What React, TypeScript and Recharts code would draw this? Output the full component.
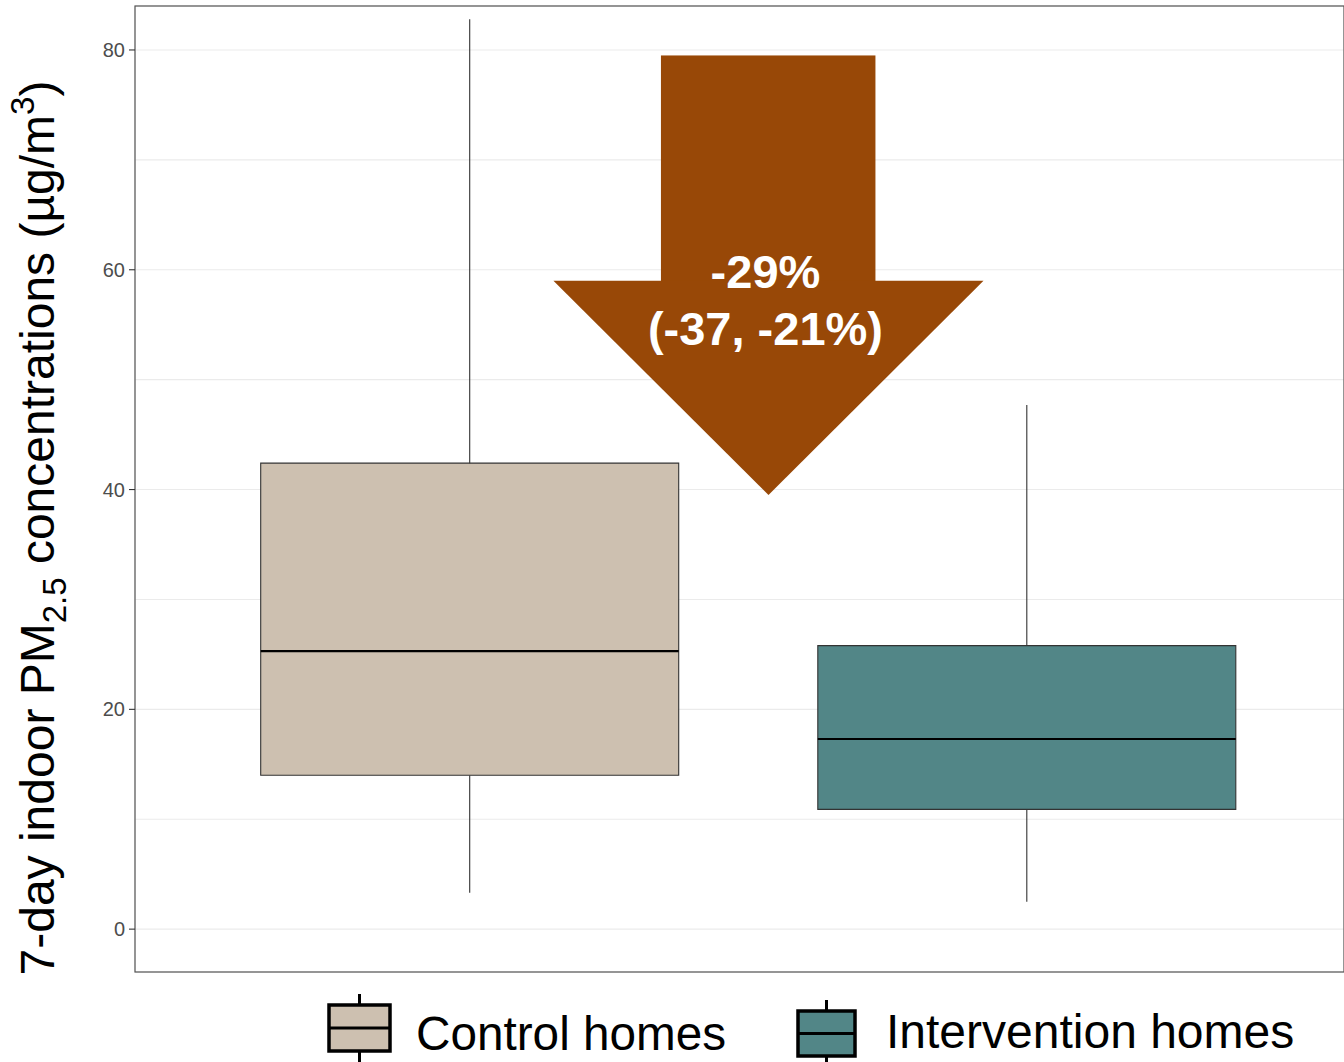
import { ComposedChart, Bar, XAxis, YAxis, CartesianGrid, ReferenceArea, Legend } from 'recharts';

// groups and box statistics (µg/m3)
const GROUPS = ['Control homes', 'Intervention homes'];
const POSITIONS = [1, 2];
const WHISKER_LOW = [3.3, 2.5];
const Q1 = [14.0, 10.9];
const MEDIAN = [25.3, 17.3];
const Q3 = [42.4, 25.8];
const WHISKER_HIGH = [82.8, 47.7];
const FILLS = ['#CDC0B0', '#528687'];

const X_DOMAIN = [0.4, 2.57];
const Y_DOMAIN = [-3.9, 84];
const Y_TICKS = [0, 10, 20, 30, 40, 50, 60, 70, 80];
const Y_LABELED = [0, 20, 40, 60, 80];

// arrow annotation, in data units (x on the 1..2 group scale)
const ARROW_SHAFT_X = [1.344, 1.729];
const ARROW_HEAD_X = [1.151, 1.923];
const ARROW_TIP = 39.5;
const ARROW_SHOULDER = 59.0;
const ARROW_TOP = 79.5;
const CHANGE_LABEL = ['-29%', '(-37, -21%)'];
const ARROW_COLOR = '#984807';

const data = GROUPS.map((g, i) => ({
  group: g,
  pos: POSITIONS[i],
  fill: FILLS[i],
  base: WHISKER_LOW[i],
  lowW: Q1[i] - WHISKER_LOW[i],
  lowBox: MEDIAN[i] - Q1[i],
  highBox: Q3[i] - MEDIAN[i],
  highW: WHISKER_HIGH[i] - Q3[i],
}));

const EDGE = '#333333';
const FONT = "'Liberation Sans', Arial, sans-serif";

const Whisker = (p: any) => {
  const cx = p.x + p.width / 2;
  return <line x1={cx} x2={cx} y1={p.y} y2={p.y + p.height} stroke={EDGE} strokeWidth={1.1} />;
};

const LowerBox = (p: any) => {
  const { x, y, width: w, height: h } = p;
  return (
    <g>
      <rect x={x} y={y} width={w} height={h} fill={p.payload.fill} />
      <path d={`M${x},${y} L${x},${y + h} L${x + w},${y + h} L${x + w},${y}`} fill="none" stroke={EDGE} strokeWidth={1.1} />
    </g>
  );
};

const UpperBox = (p: any) => {
  const { x, y, width: w, height: h } = p;
  return (
    <g>
      <rect x={x} y={y} width={w} height={h} fill={p.payload.fill} />
      <path d={`M${x},${y + h} L${x},${y} L${x + w},${y} L${x + w},${y + h}`} fill="none" stroke={EDGE} strokeWidth={1.1} />
      <line x1={x} x2={x + w} y1={y + h} y2={y + h} stroke="#000" strokeWidth={2.2} />
    </g>
  );
};

const ArrowShaft = (p: any) => (
  <rect x={p.x} y={p.y} width={p.width} height={p.height + 2} fill={ARROW_COLOR} />
);

const ArrowHead = (p: any) => {
  const { x, y, width: w, height: h } = p;
  const cx = x + w / 2;
  return (
    <g>
      <polygon points={`${x},${y} ${x + w},${y} ${cx},${y + h}`} fill={ARROW_COLOR} />
      <text x={cx - 3} y={y + 7} textAnchor="middle" fill="#fff" fontSize={47} fontWeight="bold" fontFamily={FONT}>
        {CHANGE_LABEL[0]}
      </text>
      <text x={cx - 3} y={y + 64} textAnchor="middle" fill="#fff" fontSize={47} fontWeight="bold" fontFamily={FONT}>
        {CHANGE_LABEL[1]}
      </text>
    </g>
  );
};

const PanelBorder = (p: any) => (
  <rect x={p.x} y={p.y} width={p.width} height={p.height} fill="none" stroke="#555" strokeWidth={1.2} />
);

const YTick = (p: any) => {
  const v = p.payload.value;
  if (!Y_LABELED.includes(v)) return null;
  return (
    <g>
      <line x1={p.x + 4} x2={p.x + 10} y1={p.y} y2={p.y} stroke={EDGE} strokeWidth={1.1} />
      <text x={p.x} y={p.y} dy="0.355em" textAnchor="end" fill="#4D4D4D" fontSize={20} fontFamily={FONT}>
        {v}
      </text>
    </g>
  );
};

const YTitle = () => (
  <text x={54} y={528} transform="rotate(-90 54 528)" textAnchor="middle" fontSize={48} fill="#000" fontFamily={FONT}>
    <tspan>7-day indoor PM</tspan>
    <tspan fontSize={33} dy={12}>2.5</tspan>
    <tspan dy={-12}> concentrations (µg/m</tspan>
    <tspan fontSize={33} dy={-20}>3</tspan>
    <tspan dy={20}>)</tspan>
  </text>
);

const LegendKey = ({ left, top, w, h, fill }: { left: number; top: number; w: number; h: number; fill: string }) => {
  const cx = left + w / 2;
  return (
    <g>
      <line x1={cx} x2={cx} y1={top - 11} y2={top + h + 11} stroke="#000" strokeWidth={3} />
      <rect x={left} y={top} width={w} height={h} fill={fill} stroke="#000" strokeWidth={3.5} />
      <line x1={left} x2={left + w} y1={top + h / 2} y2={top + h / 2} stroke="#000" strokeWidth={3} />
    </g>
  );
};

const LegendContent = () => (
  <svg width={1344} height={90} style={{ display: 'block' }}>
    <LegendKey left={329} top={33} w={61} h={46} fill={FILLS[0]} />
    <text x={416} y={78} fontSize={47.7} fill="#000" fontFamily={FONT}>
      {GROUPS[0]}
    </text>
    <LegendKey left={798} top={39} w={57} h={45} fill={FILLS[1]} />
    <text x={886} y={76} fontSize={48} fill="#000" fontFamily={FONT}>
      {GROUPS[1]}
    </text>
  </svg>
);

export default function App() {
  return (
    <div style={{ position: 'absolute', top: 0, left: 0, width: 1344, height: 1062, background: '#fff' }}>
      <ComposedChart width={1344} height={1062} data={data} margin={{ top: 6, right: 0, left: 0, bottom: 0 }}>
        <CartesianGrid stroke="#EBEBEB" strokeWidth={1.1} />
        <XAxis
          dataKey="group"
          type="category"
          padding={{ left: 55.7, right: 39.1 }}
          tick={false}
          tickLine={false}
          axisLine={false}
          height={0}
        />
        <XAxis xAxisId="num" dataKey="pos" type="number" domain={X_DOMAIN} allowDataOverflow hide />
        <YAxis
          type="number"
          domain={Y_DOMAIN}
          ticks={Y_TICKS}
          interval={0}
          width={135}
          tickSize={6}
          tickMargin={4}
          tickLine={false}
          axisLine={false}
          tick={<YTick />}
          allowDataOverflow
          label={{ content: () => <YTitle /> }}
        />
        <Bar dataKey="base" stackId="box" barSize={418} fill="none" isAnimationActive={false} shape={() => null} />
        <Bar dataKey="lowW" stackId="box" barSize={418} isAnimationActive={false} shape={<Whisker />} />
        <Bar dataKey="lowBox" stackId="box" barSize={418} isAnimationActive={false} shape={<LowerBox />} />
        <Bar dataKey="highBox" stackId="box" barSize={418} isAnimationActive={false} shape={<UpperBox />} />
        <Bar dataKey="highW" stackId="box" barSize={418} isAnimationActive={false} shape={<Whisker />} />
        <ReferenceArea
          xAxisId="num"
          x1={ARROW_SHAFT_X[0]}
          x2={ARROW_SHAFT_X[1]}
          y1={ARROW_SHOULDER}
          y2={ARROW_TOP}
          ifOverflow="visible"
          shape={<ArrowShaft />}
        />
        <ReferenceArea
          xAxisId="num"
          x1={ARROW_HEAD_X[0]}
          x2={ARROW_HEAD_X[1]}
          y1={ARROW_TIP}
          y2={ARROW_SHOULDER}
          ifOverflow="visible"
          shape={<ArrowHead />}
        />
        <ReferenceArea
          xAxisId="num"
          x1={X_DOMAIN[0]}
          x2={X_DOMAIN[1]}
          y1={Y_DOMAIN[0]}
          y2={Y_DOMAIN[1]}
          ifOverflow="visible"
          shape={<PanelBorder />}
        />
        <Legend verticalAlign="bottom" align="left" width={1344} height={90} content={() => <LegendContent />} />
      </ComposedChart>
    </div>
  );
}
